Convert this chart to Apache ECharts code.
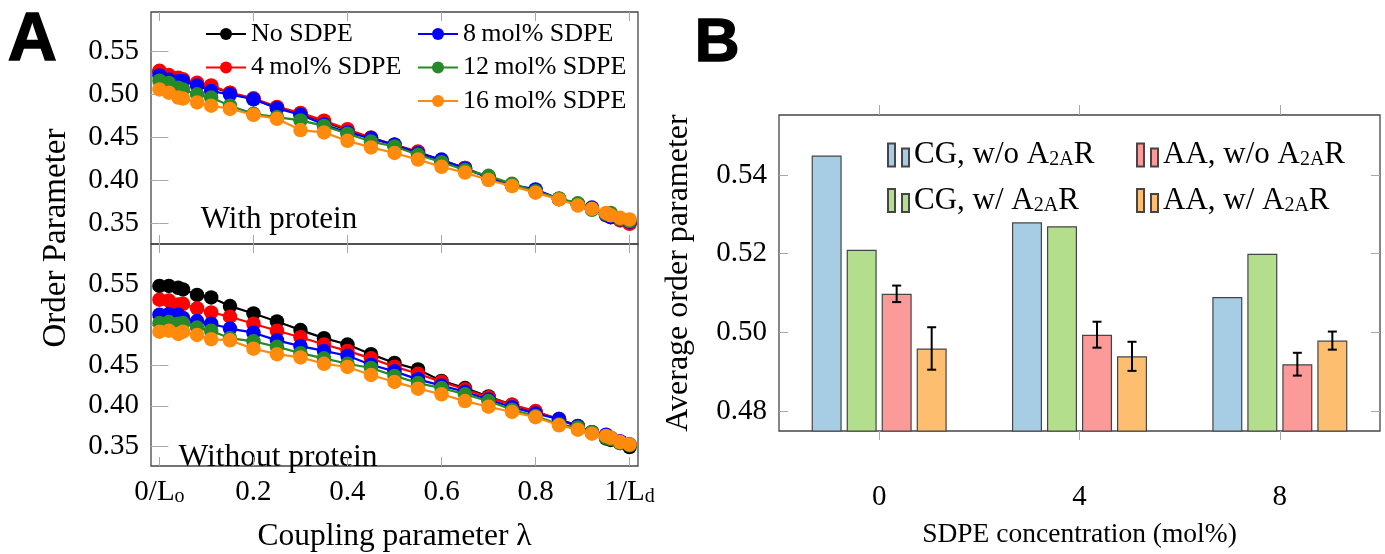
<!DOCTYPE html>
<html><head><meta charset="utf-8">
<script src="https://cdn.jsdelivr.net/npm/echarts@6/dist/echarts.min.js"></script>
<style>html,body{margin:0;padding:0;background:#fff}#c{width:1385px;height:554px}</style>
</head><body><div id="c"></div>
<script>
// ---------- DATA ----------
const lambda = [0, 0.02, 0.04, 0.05, 0.08, 0.11, 0.15, 0.2, 0.25, 0.3, 0.35, 0.4, 0.45, 0.5, 0.55, 0.6, 0.65, 0.7, 0.75, 0.8, 0.85, 0.89, 0.92, 0.95, 0.96, 0.98, 1.0];
const lineNames = ['No SDPE', '4\u2009mol% SDPE', '8\u2009mol% SDPE', '12\u2009mol% SDPE', '16\u2009mol% SDPE'];

// With protein (top) — "No SDPE" lies hidden beneath the other series
const wp0  = [0.526, 0.521, 0.518, 0.516, 0.512, 0.509, 0.501, 0.494, 0.484, 0.477, 0.468, 0.458, 0.449, 0.441, 0.432, 0.423, 0.414, 0.403, 0.394, 0.388, 0.378, 0.372, 0.367, 0.360, 0.357, 0.354, 0.350];
const wp4  = [0.527, 0.522, 0.519, 0.517, 0.513, 0.510, 0.5015, 0.495, 0.485, 0.478, 0.469, 0.459, 0.449, 0.441, 0.433, 0.422, 0.414, 0.403, 0.394, 0.387, 0.378, 0.372, 0.3665, 0.359, 0.357, 0.353, 0.349];
const wp8  = [0.5216, 0.5167, 0.5148, 0.5148, 0.5098, 0.5034, 0.4996, 0.4939, 0.4833, 0.4758, 0.4644, 0.4553, 0.4485, 0.4409, 0.4312, 0.4237, 0.4132, 0.403, 0.3944, 0.3891, 0.3778, 0.3718, 0.368, 0.3598, 0.3568, 0.3541, 0.3515];
const wp12 = [0.5155, 0.5129, 0.5072, 0.5053, 0.4996, 0.4958, 0.4864, 0.4769, 0.4731, 0.4693, 0.4629, 0.4538, 0.4447, 0.439, 0.4293, 0.4207, 0.4117, 0.4049, 0.3955, 0.3868, 0.3786, 0.3729, 0.3654, 0.3605, 0.3617, 0.3545, 0.3522];
const wp16 = [0.5053, 0.5015, 0.4958, 0.4947, 0.4902, 0.4864, 0.4826, 0.4758, 0.4712, 0.458, 0.4553, 0.4455, 0.4379, 0.4314, 0.4237, 0.4154, 0.4086, 0.400, 0.3929, 0.3853, 0.3774, 0.3703, 0.3665, 0.3617, 0.359, 0.356, 0.3541];

// Without protein (bottom)
const wo0  = [0.5484, 0.5484, 0.546, 0.544, 0.5373, 0.5341, 0.5234, 0.5143, 0.5044, 0.4937, 0.4837, 0.4758, 0.4639, 0.453, 0.445, 0.4308, 0.4219, 0.4115, 0.4012, 0.3923, 0.3835, 0.375, 0.3673, 0.3596, 0.3577, 0.3538, 0.3488];
const wo4  = [0.5313, 0.5302, 0.5254, 0.5262, 0.5206, 0.5155, 0.5103, 0.5016, 0.4929, 0.4849, 0.4758, 0.4679, 0.4587, 0.4484, 0.4396, 0.4296, 0.4204, 0.4104, 0.4012, 0.3935, 0.3827, 0.3742, 0.3665, 0.3615, 0.3596, 0.3558, 0.3519];
const wo8  = [0.5127, 0.5135, 0.5127, 0.5087, 0.5048, 0.5016, 0.4956, 0.4905, 0.481, 0.4738, 0.4679, 0.4619, 0.4508, 0.4426, 0.4327, 0.425, 0.4173, 0.4077, 0.3981, 0.3904, 0.3835, 0.3742, 0.3673, 0.3642, 0.3604, 0.3558, 0.3519];
const wo12 = [0.5024, 0.5036, 0.5016, 0.5024, 0.4968, 0.4929, 0.4837, 0.4798, 0.473, 0.4651, 0.4587, 0.452, 0.4468, 0.437, 0.4281, 0.4219, 0.4142, 0.4058, 0.395, 0.3873, 0.3769, 0.3731, 0.3673, 0.3604, 0.3588, 0.3538, 0.3512];
const wo16 = [0.4917, 0.4929, 0.4889, 0.4917, 0.4877, 0.4825, 0.481, 0.4706, 0.4639, 0.4599, 0.452, 0.448, 0.4381, 0.4295, 0.4212, 0.4142, 0.4058, 0.3988, 0.3923, 0.3858, 0.3758, 0.3704, 0.3654, 0.3627, 0.3604, 0.355, 0.3519];

const xTickValues = [0, 0.2, 0.4, 0.6, 0.8, 1];
const xTickMain   = ['0/L', '0.2', '0.4', '0.6', '0.8', '1/L'];
const xTickSub    = ['o', '', '', '', '', 'd'];
const yTicksA = [0.35, 0.40, 0.45, 0.50, 0.55];

// Panel B
const concCategories = ['0', '4', '8'];
const barNames = ['CG, w/o A2AR', 'CG, w/ A2AR', 'AA, w/o A2AR', 'AA, w/ A2AR'];
const cgNo    = [0.545, 0.528, 0.509];
const cgW     = [0.521, 0.527, 0.520];
const aaNo    = [0.5098, 0.4994, 0.4919];
const aaNoErr = [0.0021, 0.0033, 0.0029];
const aaW     = [0.4959, 0.4939, 0.4979];
const aaWErr  = [0.0054, 0.0037, 0.0023];
const yTicksB = [0.48, 0.50, 0.52, 0.54];

// ---------- STYLE ----------
const FONT = "'Liberation Serif', 'DejaVu Serif', serif";
const lineColors = ['#000000', '#ff0000', '#0000ff', '#268a26', '#ff8a0c'];
const barColors = ['#a6cde3', '#b3de8b', '#fb9a99', '#fdbf6f'];
const FRAME = '#454545';
const TICK = '#a8a8a8';
const BAR_W = 30, BAR_GAP = 0.167;

const chart = echarts.init(document.getElementById('c'), null, {renderer: 'canvas'});

function valueX(gridIndex, pos, showLabel) {
  return {
    type: 'value', gridIndex, position: pos, min: -0.018, max: 1.018,
    axisLine: {show: false},
    axisTick: {show: true, inside: true, length: 9, customValues: xTickValues, lineStyle: {color: TICK, width: 1}},
    axisLabel: showLabel ? {
      show: true, customValues: xTickValues, margin: 12, fontFamily: FONT, fontSize: 29, color: '#000',
      formatter: v => { const i = xTickValues.findIndex(t => Math.abs(t - v) < 1e-9); if (i < 0) return ''; return xTickSub[i] ? xTickMain[i] + '{s|' + xTickSub[i] + '}' : xTickMain[i]; },
      rich: {s: {fontFamily: FONT, fontSize: 20, verticalAlign: 'bottom', lineHeight: 18, padding: [16, 0, 0, 0]}}
    } : {show: false},
    splitLine: {show: false}
  };
}
function valueY(gridIndex, pos, min, max, ticks, showLabel) {
  return {
    type: 'value', gridIndex, position: pos, min, max,
    axisLine: {show: false},
    axisTick: {show: true, inside: true, length: 9, customValues: ticks, lineStyle: {color: TICK, width: 1}},
    axisLabel: showLabel ? {show: true, customValues: ticks, margin: 12, fontFamily: FONT, fontSize: 29, color: '#000', formatter: v => v.toFixed(2)} : {show: false},
    splitLine: {show: false}
  };
}

const xAxes = [valueX(0, 'bottom', false), valueX(0, 'top', false), valueX(1, 'bottom', true), valueX(1, 'top', false)];
xAxes[2].name = 'Coupling parameter \u03bb';
xAxes[2].nameLocation = 'middle';
xAxes[2].nameGap = 55;
xAxes[2].nameTextStyle = {fontFamily: FONT, fontSize: 31.5, color: '#000'};
xAxes.push({
  type: 'category', gridIndex: 2, position: 'bottom', data: concCategories,
  axisLine: {show: false},
  axisTick: {show: true, inside: false, alignWithLabel: true, length: 9, lineStyle: {color: TICK}},
  axisLabel: {margin: 52, fontFamily: FONT, fontSize: 29, color: '#000'},
  name: 'SDPE concentration (mol%)', nameLocation: 'middle', nameGap: 90,
  nameTextStyle: {fontFamily: FONT, fontSize: 27.5, color: '#000'}
});
xAxes.push({
  type: 'category', gridIndex: 2, position: 'top', data: concCategories,
  axisLine: {show: false},
  axisTick: {show: true, inside: false, alignWithLabel: true, length: 10, lineStyle: {color: TICK}},
  axisLabel: {show: false}
});

const yAxes = [
  valueY(0, 'left', 0.3256, 0.5953, yTicksA, true), valueY(0, 'right', 0.3256, 0.5953, yTicksA, false),
  valueY(1, 'left', 0.3254, 0.6003, yTicksA, true), valueY(1, 'right', 0.3254, 0.6003, yTicksA, false),
  valueY(2, 'left', 0.4749, 0.5553, yTicksB, true), valueY(2, 'right', 0.4749, 0.5553, yTicksB, false)
];
yAxes[4].name = 'Average order parameter';
yAxes[4].nameLocation = 'middle';
yAxes[4].nameGap = 84;
yAxes[4].nameTextStyle = {fontFamily: FONT, fontSize: 32, color: '#000'};

const series = [];
const topSets = [wp0, wp4, wp8, wp12, wp16];
const botSets = [wo0, wo4, wo8, wo12, wo16];
function addLines(sets, xi, yi) {
  sets.forEach((arr, k) => {
    series.push({
      type: 'line', name: lineNames[k], xAxisIndex: xi, yAxisIndex: yi,
      data: lambda.map((x, i) => [x, arr[i]]),
      symbol: 'circle', symbolSize: 14.5, showSymbol: true,
      lineStyle: {color: lineColors[k], width: 2.2},
      itemStyle: {color: lineColors[k]},
      animation: false, z: 2 + k
    });
  });
}
addLines(topSets, 0, 0);
addLines(botSets, 2, 2);

const barSets = [cgNo, cgW, aaNo, aaW];
barSets.forEach((arr, k) => {
  series.push({
    type: 'bar', name: barNames[k], xAxisIndex: 4, yAxisIndex: 4,
    data: arr, barWidth: BAR_W, barGap: (BAR_GAP * 100) + '%',
    itemStyle: {color: barColors[k], borderColor: FRAME, borderWidth: 1.2},
    animation: false
  });
});
function errSeries(vals, errs, k) {
  return {
    type: 'custom', name: 'err' + k, xAxisIndex: 4, yAxisIndex: 4, z: 10, animation: false,
    data: vals.map((v, i) => [i, v, errs[i]]),
    renderItem: (params, api) => {
      const ci = api.value(0), v = api.value(1), e = api.value(2);
      const p1 = api.coord([ci, v + e]), p2 = api.coord([ci, v - e]);
      const x = p1[0] + (k - 1.5) * BAR_W * (1 + BAR_GAP);
      const c = 4.5;
      const st = {stroke: '#000', lineWidth: 2};
      return {type: 'group', children: [
        {type: 'line', shape: {x1: x, y1: p1[1], x2: x, y2: p2[1]}, style: st},
        {type: 'line', shape: {x1: x - c, y1: p1[1], x2: x + c, y2: p1[1]}, style: st},
        {type: 'line', shape: {x1: x - c, y1: p2[1], x2: x + c, y2: p2[1]}, style: st}
      ]};
    }
  };
}
series.push(errSeries(aaNo, aaNoErr, 2));
series.push(errSeries(aaW, aaWErr, 3));

const barIcon = 'path://M0,0 h7 v23 h-7 Z M14,5 h7 v18 h-7 Z';
const legTextA = {fontFamily: FONT, fontSize: 26, color: '#000', lineHeight: 26};
const legTextB = {fontFamily: FONT, fontSize: 31, color: '#000', lineHeight: 30,
  rich: {s: {fontFamily: FONT, fontSize: 20, verticalAlign: 'bottom', lineHeight: 16, padding: [17, 0, 0, 0]}}};
const fmtB = n => n.replace('A2AR', 'A{s|2A}R');

const option = {
  backgroundColor: '#fff',
  animation: false,
  grid: [
    {left: 151, top: 12, width: 487, height: 232, show: true, borderColor: FRAME, borderWidth: 1.3, containLabel: false},
    {left: 151, top: 244, width: 487, height: 235, show: true, borderColor: FRAME, borderWidth: 1.3, containLabel: false},
    {left: 779, top: 115, width: 601, height: 316, show: true, borderColor: FRAME, borderWidth: 1.3, containLabel: false}
  ],
  xAxis: xAxes,
  yAxis: yAxes,
  legend: [
    {data: lineNames.slice(0, 2), left: 200, top: 16, orient: 'vertical', itemWidth: 40, itemHeight: 15, itemGap: 7.5, textStyle: legTextA, selectedMode: false},
    {data: lineNames.slice(2), left: 412, top: 16, orient: 'vertical', itemWidth: 40, itemHeight: 15, itemGap: 7.5, textStyle: legTextA, selectedMode: false},
    {data: barNames.slice(0, 2), left: 882, top: 128, orient: 'vertical', icon: barIcon, itemWidth: 21, itemHeight: 23, itemGap: 8, textStyle: legTextB, formatter: fmtB, selectedMode: false},
    {data: barNames.slice(2), left: 1131, top: 128, orient: 'vertical', icon: barIcon, itemWidth: 21, itemHeight: 23, itemGap: 8, textStyle: legTextB, formatter: fmtB, selectedMode: false}
  ],
  graphic: [
    {type: 'text', left: 7, top: 6, style: {text: 'A', fontFamily: "'Liberation Sans', Arial, sans-serif", fontWeight: 'bold', fontSize: 68, fill: '#000', stroke: '#000', lineWidth: 1.5}},
    {type: 'text', left: 694, top: 12, style: {text: 'B', fontFamily: "'Liberation Sans', Arial, sans-serif", fontWeight: 'bold', fontSize: 62, fill: '#000', stroke: '#000', lineWidth: 1.5}},
    {type: 'text', x: 279, y: 220, style: {text: 'With protein', fontFamily: FONT, fontSize: 31, fill: '#000', align: 'center', verticalAlign: 'middle'}},
    {type: 'text', x: 278, y: 458, style: {text: 'Without protein', fontFamily: FONT, fontSize: 31.5, fill: '#000', align: 'center', verticalAlign: 'middle'}},
    {type: 'text', x: 56, y: 238, rotation: Math.PI / 2, style: {text: 'Order Parameter', fontFamily: FONT, fontSize: 33, fill: '#000', align: 'center', verticalAlign: 'middle'}}
  ],
  series
};
chart.setOption(option);
</script>
</body></html>
